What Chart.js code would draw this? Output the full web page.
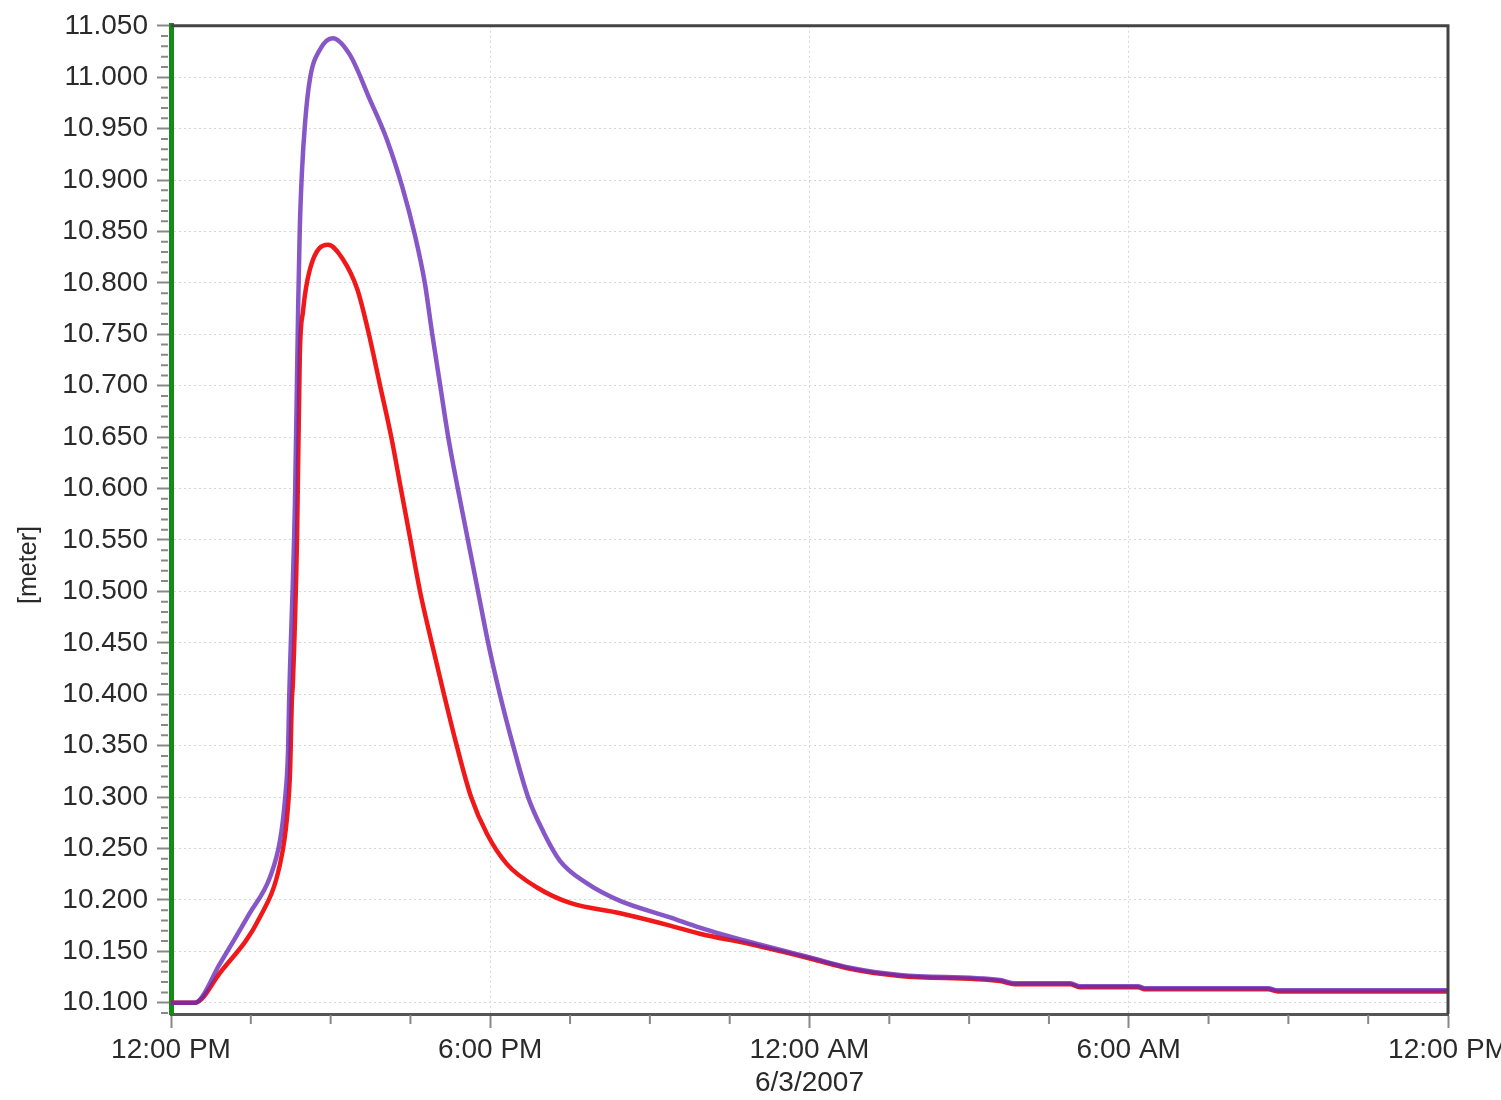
<!DOCTYPE html>
<html>
<head>
<meta charset="utf-8">
<script src="https://cdn.jsdelivr.net/npm/chart.js@4.4.0/dist/chart.umd.min.js"></script>
<style>
  html, body { margin: 0; padding: 0; background: #fff; overflow: hidden; }
  #wrap { width: 1540px; height: 1100px; }
</style>
</head>
<body>
<div id="wrap"><canvas id="myChart" width="1540" height="1100"></canvas></div>
<script>
// hours after 12:00 PM, water level in meter
const purpleHours = [0, 0.45, 0.92, 1.48, 1.86, 2.05, 2.14, 2.20, 2.22, 2.33, 2.39, 2.42, 2.46, 2.52, 2.61, 2.80, 3.04, 3.36, 3.74, 4.06, 4.36, 4.59, 4.77, 4.91, 5.06, 5.21, 5.39, 5.58, 5.77, 5.96, 6.18, 6.43, 6.71, 6.99, 7.31, 7.82, 8.44, 9.38, 9.94, 10.88, 12.01, 12.76, 13.70, 15.58, 15.86, 16.90, 17.08, 18.17, 18.32, 20.62, 20.80, 24.00];
const purpleLevel = [10.100, 10.100, 10.138, 10.187, 10.222, 10.258, 10.296, 10.345, 10.393, 10.587, 10.777, 10.852, 10.907, 10.956, 10.998, 11.027, 11.038, 11.022, 10.978, 10.939, 10.891, 10.845, 10.800, 10.750, 10.700, 10.650, 10.600, 10.550, 10.500, 10.450, 10.400, 10.350, 10.300, 10.267, 10.238, 10.216, 10.199, 10.183, 10.173, 10.159, 10.144, 10.134, 10.127, 10.122, 10.119, 10.119, 10.116, 10.116, 10.114, 10.114, 10.112, 10.112];

const redHours = [0, 0.45, 0.92, 1.67, 2.05, 2.18, 2.24, 2.27, 2.29, 2.37, 2.42, 2.48, 2.61, 2.95, 3.23, 3.50, 3.72, 3.93, 4.14, 4.32, 4.50, 4.68, 4.90, 5.13, 5.37, 5.64, 5.94, 6.31, 6.88, 7.50, 8.44, 9.38, 9.94, 10.88, 12.01, 12.76, 13.70, 15.58, 15.86, 16.90, 17.08, 18.17, 18.32, 20.62, 20.80, 24.00];
const redLevel = [10.100, 10.100, 10.129, 10.183, 10.235, 10.280, 10.328, 10.393, 10.410, 10.555, 10.728, 10.772, 10.813, 10.837, 10.823, 10.794, 10.750, 10.700, 10.650, 10.600, 10.550, 10.500, 10.450, 10.400, 10.350, 10.300, 10.264, 10.235, 10.212, 10.197, 10.187, 10.175, 10.167, 10.157, 10.143, 10.133, 10.126, 10.121, 10.118, 10.118, 10.115, 10.115, 10.113, 10.113, 10.111, 10.111];

const xTickHours = [0, 6, 12, 18, 24];
const xTickLabels = ['12:00 PM', '6:00 PM', ['12:00 AM', '6/3/2007'], '6:00 AM', '12:00 PM'];
const yTicks = [10.10, 10.15, 10.20, 10.25, 10.30, 10.35, 10.40, 10.45, 10.50, 10.55, 10.60, 10.65, 10.70, 10.75, 10.80, 10.85, 10.90, 10.95, 11.00, 11.05];
const yTitle = '[meter]';

Chart.defaults.font.family = '"Liberation Sans", Arial, sans-serif';
Chart.defaults.font.size = 28;
Chart.defaults.color = '#2a2a2a';

// minor ticks, top/right frame and the axis title
const frame = {
    id: 'frame',
    afterDraw(chart) {
        const {ctx, chartArea: a, scales: {x, y}} = chart;
        ctx.save();
        ctx.strokeStyle = '#888';
        ctx.lineWidth = 2;
        ctx.beginPath();
        for (let h = 1.5; h < 24; h += 1.5) {
            if (h % 6 === 0) continue;
            const px = x.getPixelForValue(h);
            ctx.moveTo(px, a.bottom + 1);
            ctx.lineTo(px, a.bottom + 10);
        }
        for (let k = 1009; k <= 1105; k++) {
            if (k % 5 === 0) continue;
            const py = y.getPixelForValue(k / 100);
            ctx.moveTo(a.left - 10, py);
            ctx.lineTo(a.left - 3, py);
        }
        ctx.stroke();

        ctx.strokeStyle = '#444';
        ctx.lineWidth = 3;
        ctx.beginPath();
        ctx.moveTo(a.left, a.top);
        ctx.lineTo(a.right, a.top);
        ctx.lineTo(a.right, a.bottom);
        ctx.stroke();

        ctx.translate(29, 565);
        ctx.rotate(-Math.PI / 2);
        ctx.font = '25px "Liberation Sans", Arial, sans-serif';
        ctx.fillStyle = '#2a2a2a';
        ctx.textAlign = 'center';
        ctx.textBaseline = 'middle';
        ctx.fillText(yTitle, 0, 0);
        ctx.restore();
    }
};

const ctx = document.getElementById('myChart').getContext('2d');
const myChart = new Chart(ctx, {
    type: 'line',
    data: {
        datasets: [{
            label: 'purple',
            data: purpleHours.map((h, i) => ({x: h, y: purpleLevel[i]})),
            borderColor: 'rgba(105, 45, 185, 0.8)',
            borderWidth: 4.5,
            pointRadius: 0,
            fill: false,
            cubicInterpolationMode: 'monotone'
        }, {
            label: 'red',
            data: redHours.map((h, i) => ({x: h, y: redLevel[i]})),
            borderColor: '#f01818',
            borderWidth: 4.5,
            pointRadius: 0,
            fill: false,
            cubicInterpolationMode: 'monotone'
        }]
    },
    options: {
        responsive: false,
        animation: false,
        devicePixelRatio: 1,
        layout: { padding: { left: 0, right: 92, top: 23, bottom: 0 } },
        plugins: {
            legend: { display: false },
            tooltip: { enabled: false }
        },
        scales: {
            x: {
                type: 'linear',
                min: 0,
                max: 24,
                afterBuildTicks: s => { s.ticks = xTickHours.map(v => ({value: v})); },
                afterFit: s => { s.height = 86; s.paddingLeft = 0; s.paddingRight = 0; },
                ticks: {
                    autoSkip: false,
                    maxRotation: 0,
                    padding: 5,
                    callback: (v, i) => xTickLabels[i]
                },
                grid: { color: '#d6d6d6', lineWidth: 1, tickColor: '#888', tickLength: 14, tickWidth: 2 },
                border: { color: '#555', width: 3, dash: [2, 3] }
            },
            y: {
                type: 'linear',
                min: 10.089,
                max: 11.05,
                afterBuildTicks: s => { s.ticks = yTicks.map(v => ({value: v})); },
                afterFit: s => { s.width = 171; },
                ticks: {
                    padding: 9,
                    callback: v => v.toFixed(3)
                },
                grid: { color: '#d6d6d6', lineWidth: 1, tickColor: '#888', tickLength: 14, tickWidth: 2 },
                border: { color: '#168a16', width: 5, dash: [2, 3] }
            }
        }
    },
    plugins: [frame]
});
</script>
</body>
</html>
